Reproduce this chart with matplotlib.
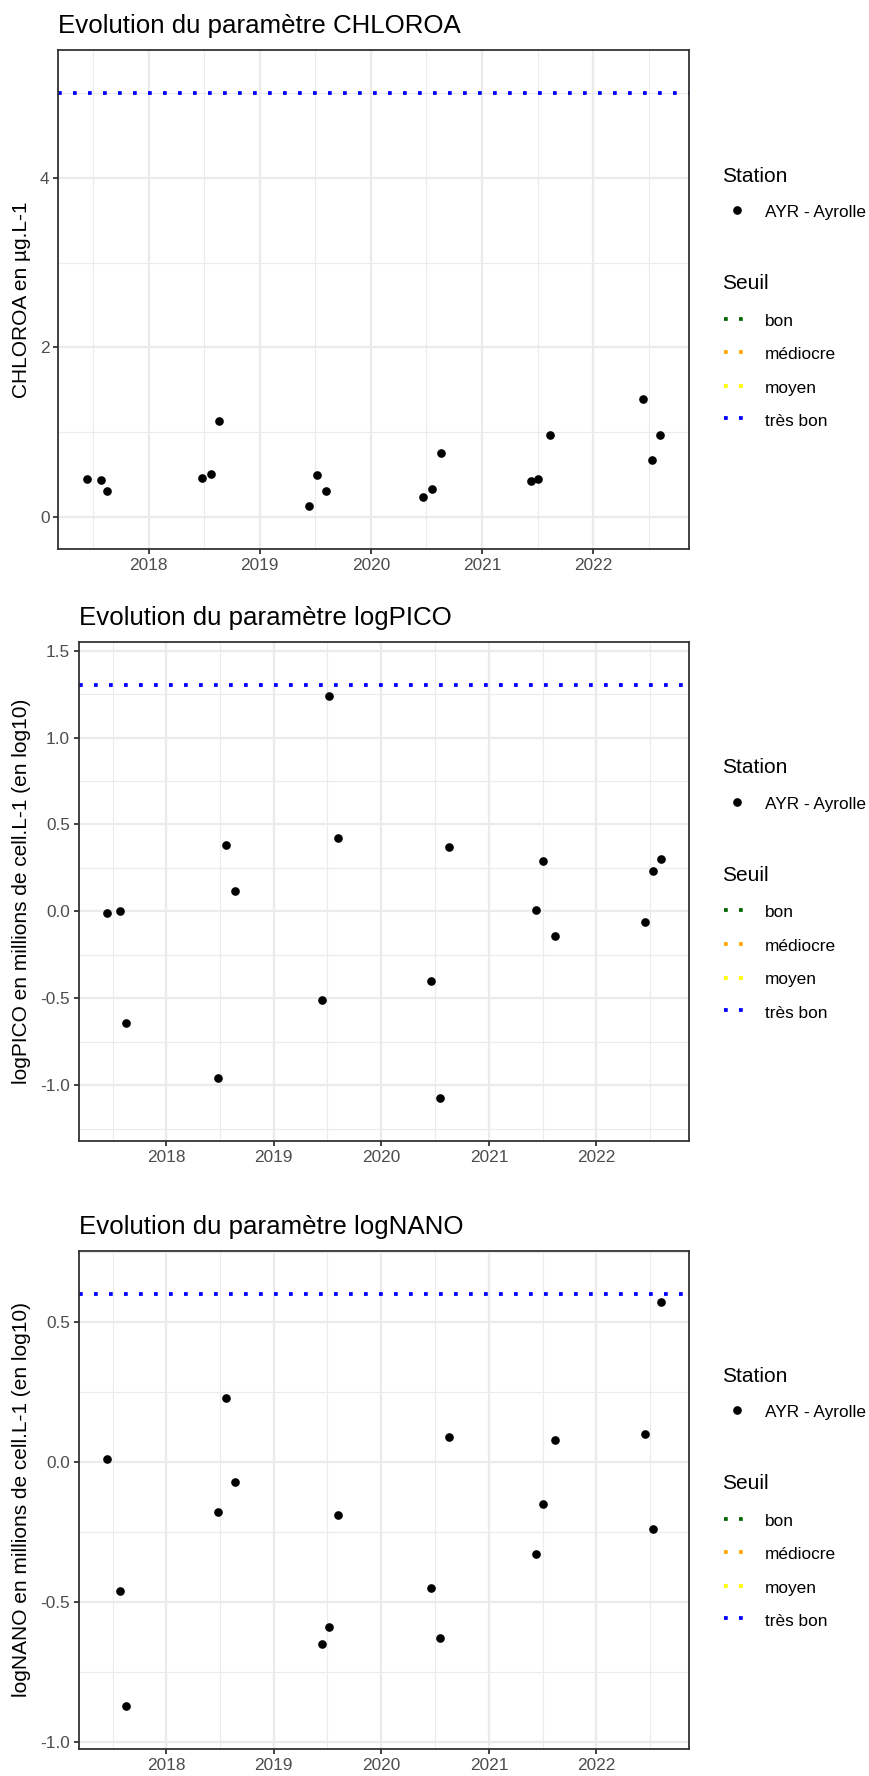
import matplotlib
matplotlib.use("Agg")
import matplotlib.pyplot as plt
import matplotlib.dates as mdates
from matplotlib.lines import Line2D
from datetime import date

plt.rcParams['font.family'] = ['Liberation Sans', 'DejaVu Sans']
plt.rcParams['axes.unicode_minus'] = False

# --- data -------------------------------------------------------------
dates = ["2017-06-12", "2017-07-27", "2017-08-17",
         "2018-06-26", "2018-07-24", "2018-08-21",
         "2019-06-13", "2019-07-08", "2019-08-07",
         "2020-06-19", "2020-07-20", "2020-08-19",
         "2021-06-10", "2021-07-02", "2021-08-12",
         "2022-06-15", "2022-07-13", "2022-08-08"]

chloroa = [0.44, 0.43, 0.30, 0.46, 0.51, 1.13, 0.13, 0.49, 0.30,
           0.23, 0.33, 0.75, 0.42, 0.45, 0.97, 1.39, 0.67, 0.97]
logpico = [-0.01, 0.00, -0.64, -0.96, 0.38, 0.12, -0.51, 1.24, 0.42,
           -0.40, -1.07, 0.37, 0.01, 0.29, -0.14, -0.06, 0.23, 0.30]
lognano = [0.01, -0.46, -0.87, -0.18, 0.23, -0.07, -0.65, -0.59, -0.19,
           -0.45, -0.63, 0.09, -0.33, -0.15, 0.08, 0.10, -0.24, 0.57]

params = ["CHLOROA", "logPICO", "logNANO"]
ylabels = ["CHLOROA en µg.L-1",
           "logPICO en millions de cell.L-1 (en log10)",
           "logNANO en millions de cell.L-1 (en log10)"]
seuil_tres_bon = [5.0, 1.3, 0.6]
ylims = [(-0.384, 5.509), (-1.32, 1.551), (-1.025, 0.755)]
yticks = [[0, 2, 4], [-1.0, -0.5, 0.0, 0.5, 1.0, 1.5], [-1.0, -0.5, 0.0, 0.5]]
yticklabels = [["0", "2", "4"],
               ["-1.0", "-0.5", "0.0", "0.5", "1.0", "1.5"],
               ["-1.0", "-0.5", "0.0", "0.5"]]
yminor = [[1, 3, 5], [-1.25, -0.75, -0.25, 0.25, 0.75, 1.25],
          [-0.75, -0.25, 0.25, 0.75]]

station = "AYR - Ayrolle"
seuil_names = ["bon", "médiocre", "moyen", "très bon"]
seuil_colors = ["#006400", "#FFA500", "#FFFF00", "#0000FF"]

# panel boxes in pixels: left, top, right, bottom
boxes = [(58.3, 50, 688.5, 549.3),
         (79, 641.7, 688.5, 1141),
         (79, 1250.7, 688.5, 1749)]

W, H = 869, 1776
fig = plt.figure(figsize=(W / 100, H / 100), dpi=100)

def fx(px):
    return px / W

def fy(py):
    return 1 - py / H

x = mdates.date2num([date.fromisoformat(d) for d in dates])
span = x.max() - x.min()
xlim = (x.min() - 0.05 * span, x.max() + 0.05 * span)
dots = (0, (1, 3))

for i, vals in enumerate([chloroa, logpico, lognano]):
    l, t, r, b = boxes[i]
    ax = fig.add_axes([fx(l), fy(b), (r - l) / W, (b - t) / H])
    ax.set_axisbelow(True)
    ax.axhline(seuil_tres_bon[i], color="blue", lw=2.7, ls=dots,
               dash_capstyle="butt", zorder=2)
    ax.plot(x, vals, "o", color="black", ms=5.2, zorder=3)
    ax.set_xlim(xlim)
    ax.set_ylim(ylims[i])
    ax.xaxis.set_major_locator(mdates.YearLocator())
    ax.xaxis.set_major_formatter(mdates.DateFormatter("%Y"))
    ax.xaxis.set_minor_locator(mdates.MonthLocator(bymonth=7, bymonthday=2))
    ax.set_yticks(yticks[i])
    ax.set_yticklabels(yticklabels[i])
    ax.set_yticks(yminor[i], minor=True)
    ax.grid(which="major", color="#EBEBEB", lw=1.6)
    ax.grid(which="minor", color="#EBEBEB", lw=0.8)
    for s in ax.spines.values():
        s.set_color("#333333")
        s.set_linewidth(1.3)
    ax.tick_params(which="major", length=3.9, width=1.3, color="#333333",
                   labelcolor="#4D4D4D", labelsize=12.4, pad=2.5)
    ax.tick_params(which="minor", length=0)

    # title and y axis title
    fig.text(fx(l), fy(t - 17), "Evolution du paramètre " + params[i],
             fontsize=18.6, ha="left", va="baseline")
    cy = (t + b) / 2
    fig.text(fx(22), fy(cy), ylabels[i], fontsize=15, rotation=90,
             ha="center", va="center")

    # legend
    fig.text(fx(722), fy(cy - 118), "Station", fontsize=15, va="baseline")
    fig.add_artist(Line2D([fx(737)], [fy(cy - 89.7)], marker="o",
                          color="black", ms=5.2, transform=fig.transFigure))
    fig.text(fx(765), fy(cy - 82.4), station, fontsize=12.4, va="baseline")
    fig.text(fx(722), fy(cy - 10.7), "Seuil", fontsize=15, va="baseline")
    key_y = [19, 52.3, 86.3, 118.6]
    txt_y = [26, 59.3, 93, 126.3]
    for name, col, ky, ty in zip(seuil_names, seuil_colors, key_y, txt_y):
        fig.add_artist(Line2D([fx(724), fx(744)], [fy(cy + ky)] * 2,
                              color=col, lw=2.7, ls=dots,
                              dash_capstyle="butt",
                              transform=fig.transFigure))
        fig.text(fx(765), fy(cy + ty), name, fontsize=12.4, va="baseline")

fig.savefig("out.png", dpi=100, facecolor="white")
